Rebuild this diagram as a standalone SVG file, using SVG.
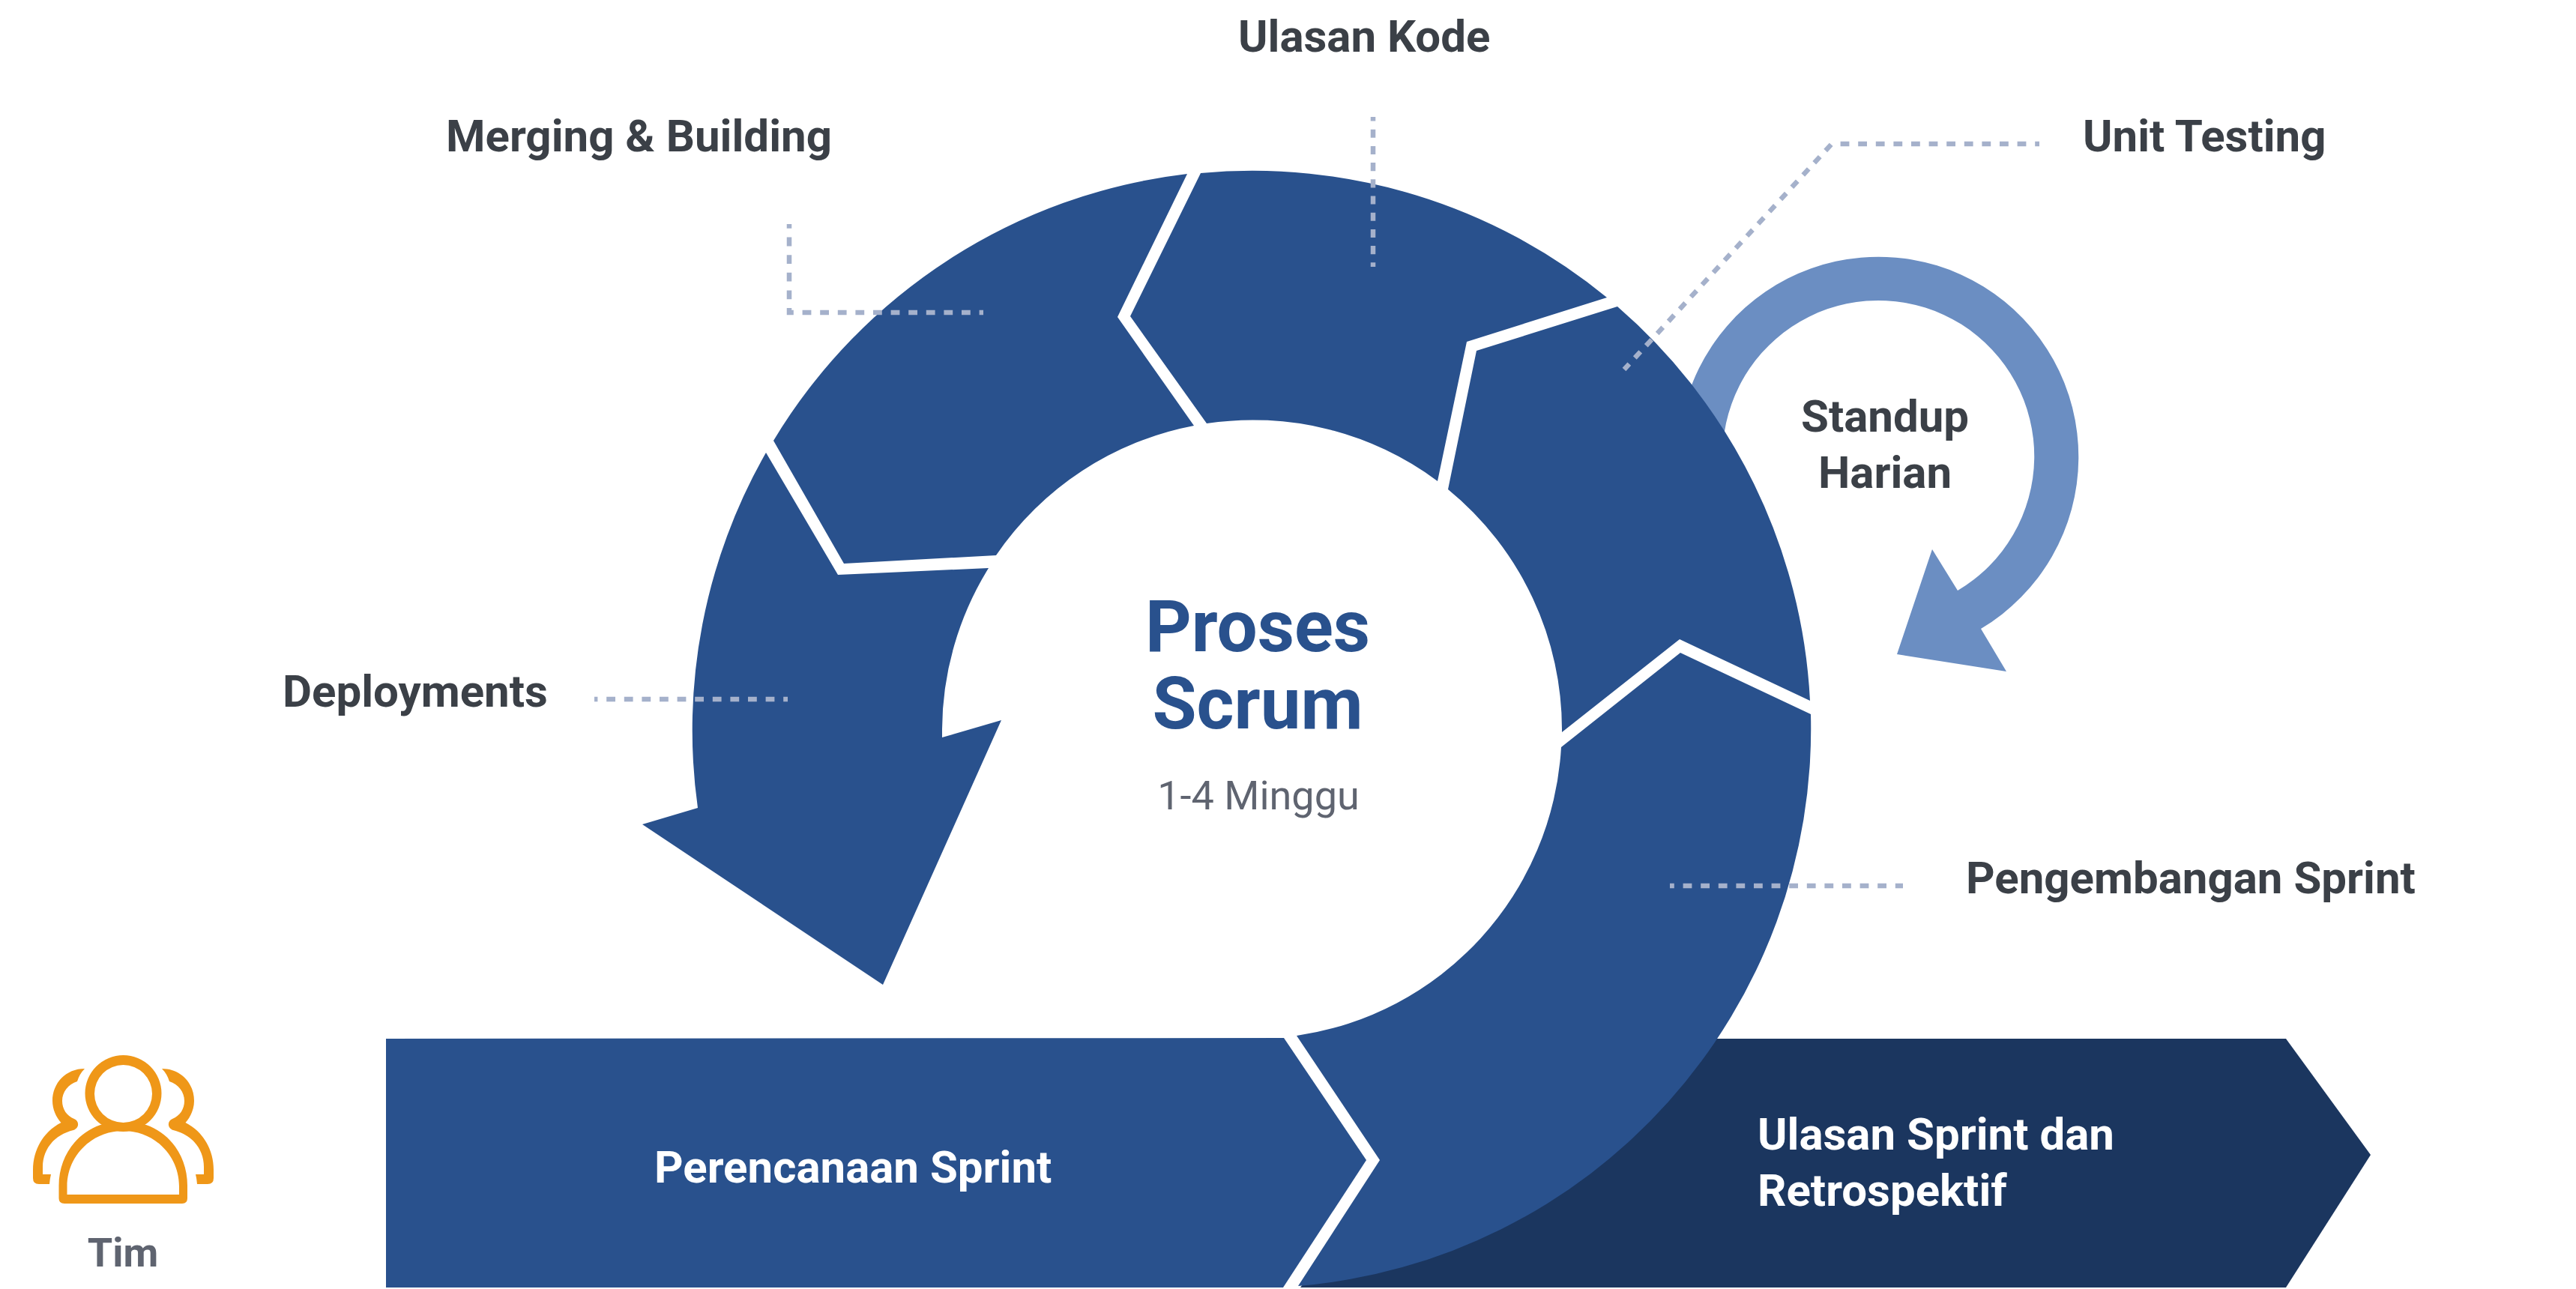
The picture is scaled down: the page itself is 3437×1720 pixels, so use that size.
<svg xmlns="http://www.w3.org/2000/svg" width="3437" height="1720" viewBox="0 0 3437 1720">
<style>
text{font-family:Roboto,"Liberation Sans",sans-serif}
.blue{fill:#29518d}
.dark{fill:#1b365f}
.loop{fill:#6b8ec2}
.orange{fill:#ef9718;fill-rule:evenodd}
.lbl{font-size:60px;font-weight:700;fill:#3b4047}
.wht{font-size:60px;font-weight:700;fill:#fff}
.ttl{font-size:96px;font-weight:700;fill:#29518d;text-anchor:middle}
.sub{font-size:54px;font-weight:400;fill:#5f6470;text-anchor:middle}
.tim{font-size:54px;font-weight:700;fill:#5f6470;text-anchor:middle}
.dash{fill:none;stroke:#a5b1cb;stroke-width:6.500;stroke-dasharray:11.800 11.800;stroke-dashoffset:6}
.dash.tight{stroke-dasharray:11.100 11.100;stroke-dashoffset:5.500}
.dash.diag{stroke-dasharray:11.050 11.050;stroke-dashoffset:1}
</style>
<rect width="3437" height="1720" fill="#fff"/>
<g id="ulasan-sprint">
<polygon class="dark" points="2000,1386 3050,1386 3163,1541 3050,1718 1735,1718"/>
</g>
<g id="perencanaan-sprint">
<polygon class="blue" points="515,1386 1713,1385 1823,1548 1712,1718 515,1718"/>
<text class="wht" x="873" y="1578">Perencanaan Sprint</text>
</g>
<g id="standup-harian">
<path class="loop" d="M2240,590 A267,267 0 1 1 2643,839 L2677,896 L2531,873 L2578,733 L2612,788 A208,208 0 1 0 2299,591 Z"/>
<text class="lbl" text-anchor="middle" x="2515" y="576">Standup</text>
<text class="lbl" text-anchor="middle" x="2515" y="651">Harian</text>
</g>
<g id="pengembangan-sprint">
<path class="blue" d="M2416,953 A746,746 0 0 1 1732,1716 L1841,1548 L1730,1382 A413,413 0 0 0 2083,997 L2242,871 Z"/>
<text class="lbl" x="2623" y="1192">Pengembangan Sprint</text>
</g>
<g id="unit-testing">
<path class="blue" d="M2158,409 A746,746 0 0 1 2415,935 L2241,853 L2084,977 A414,414 0 0 0 1932,653 L1970,468 Z"/>
<text class="lbl" x="2779" y="202">Unit Testing</text>
</g>
<g id="ulasan-kode">
<path class="blue" d="M1602,231 A746,746 0 0 1 2144,397 L1957,456 L1918,642 A413,413 0 0 0 1610,565 L1508,422 Z"/>
<text class="lbl" x="1652" y="69">Ulasan Kode</text>
</g>
<g id="merging-building">
<path class="blue" d="M1032,588 A746,746 0 0 1 1584,232 L1491,423 L1593,568 A413,413 0 0 0 1329,741 L1126,752 Z"/>
<text class="lbl" x="595" y="202">Merging &amp; Building</text>
</g>
<g id="deployments">
<path class="blue" d="M1022,604 A746,746 0 0 0 931,1078 L857,1100 L1178,1314 L1336,961 L1257,984 L1257,973 A413,413 0 0 1 1319,758 L1118,767 Z"/>
<text class="lbl" x="377" y="943">Deployments</text>
</g>
<g id="ulasan-sprint-label">
<text class="wht" x="2345" y="1534">Ulasan Sprint dan</text>
<text class="wht" x="2345" y="1609">Retrospektif</text>
</g>
<g id="proses-scrum">
<text class="ttl" x="1678" y="869">Proses</text>
<text class="ttl" x="1678" y="972">Scrum</text>
<text class="sub" x="1679" y="1080">1-4 Minggu</text>
</g>
<g id="tim">
<path class="orange" d="M164.500,1408 A51,51 0 1 1 164.499,1510 A51,51 0 1 1 164.500,1408 Z M164.500,1421 A38.500,38.500 0 1 0 164.501,1498 A38.500,38.500 0 1 0 164.500,1421 Z"/>
<path class="orange" d="M134,1501 L195,1501 C229,1513 250,1545 250,1582 L250,1599 Q250,1606 243,1606 L86,1606 Q78.500,1606 78.500,1599 L78.500,1582 C78.500,1545 100,1513 134,1501 Z M164.500,1509 C123,1509 89.500,1542 89.500,1583 L89.500,1594 L239,1594 L239,1583 C239,1542 206,1509 164.500,1509 Z"/>
<path id="tim-side" class="orange" d="M113,1426 C88,1426 70,1445 70,1469 C70,1480 75,1491 81.500,1498 C58,1510 44,1534 44,1561 L44,1572 Q44,1580 52,1580 L66,1580 Q66.500,1573 68,1567 L57,1567 L57,1557 C57,1533 73,1514 98,1508 C106,1505 106,1496 99,1493 C89,1489 83,1480 83,1469 C83,1457 91,1447 103,1443 Q106,1433 113,1426 Z"/>
<use href="#tim-side" transform="matrix(-1 0 0 1 329 0)"/>
<text class="tim" x="164" y="1690">Tim</text>
</g>
<g id="connectors">
<path class="dash" d="M1053,299 V417 H1312"/>
<path class="dash tight" d="M1832,156 V356"/>
<path class="dash" d="M2721,192 H2444"/>
<path class="dash diag" d="M2167,493 L2444,192"/>
<path class="dash" d="M1051,933 H793"/>
<path class="dash" d="M2228,1182 H2539"/>
</g>
</svg>
